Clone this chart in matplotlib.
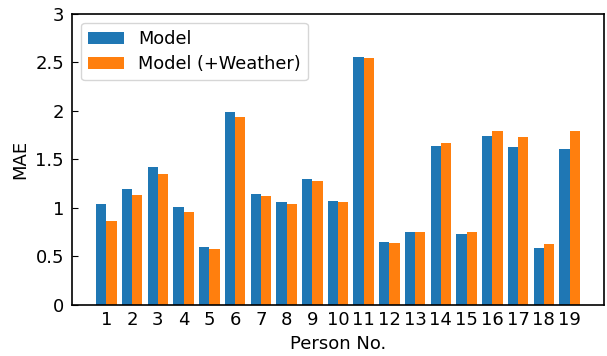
import matplotlib
matplotlib.use("Agg")
import matplotlib.pyplot as plt
import numpy as np

persons = list(range(1, 20))
model = [1.04, 1.20, 1.42, 1.01, 0.60, 1.99, 1.14, 1.06, 1.30, 1.07,
         2.56, 0.65, 0.75, 1.64, 0.73, 1.74, 1.63, 0.585, 1.61]
model_weather = [0.87, 1.13, 1.35, 0.96, 0.575, 1.94, 1.12, 1.04, 1.28, 1.06,
                 2.55, 0.64, 0.75, 1.67, 0.75, 1.79, 1.73, 0.63, 1.79]

fig = plt.figure(figsize=(6.07, 3.56), dpi=100)
ax = fig.add_axes([0.119, 0.1433, 0.8765, 0.8174])
x = np.array(persons)
w = 0.4
ax.bar(x - w/2, model, width=w, color='#1f77b4', label='Model')
ax.bar(x + w/2, model_weather, width=w, color='#ff7f0e', label='Model (+Weather)')

ax.set_xlim(-0.33, 20.35)
ax.set_ylim(0, 3)
ax.set_xticks(x)
ax.set_xticklabels([str(p) for p in persons])
ax.set_yticks([0, 0.5, 1, 1.5, 2, 2.5, 3])
ax.set_yticklabels(['0', '0.5', '1', '1.5', '2', '2.5', '3'])
ax.tick_params(direction='in', labelsize=13, length=4)
ax.tick_params(axis='y', pad=6)
ax.tick_params(axis='x', length=0, pad=4)
ax.set_xlabel('Person No.', fontsize=13, labelpad=4.5)
ax.set_ylabel('MAE', fontsize=13)
for s in ax.spines.values():
    s.set_linewidth(1.2)
ax.legend(loc='upper left', fontsize=12.8, labelspacing=0.4)
fig.savefig('out.png', dpi=100)
